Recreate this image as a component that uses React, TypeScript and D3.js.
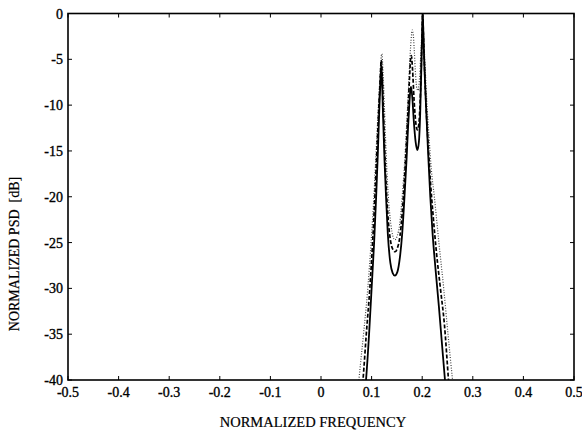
import React from "react";
import * as d3 from "d3";

const W = 582;
const H = 435;

const xTicks = [-0.5, -0.4, -0.3, -0.2, -0.1, 0, 0.1, 0.2, 0.3, 0.4, 0.5];
const xTickLabels = ["-0.5", "-0.4", "-0.3", "-0.2", "-0.1", "0", "0.1", "0.2", "0.3", "0.4", "0.5"];
const yTicks = [0, -5, -10, -15, -20, -25, -30, -35, -40];
const yTickLabels = ["0", "-5", "-10", "-15", "-20", "-25", "-30", "-35", "-40"];

// Solid curve: [normalized frequency, dB]
const solidFreq = [0.084, 0.089, 0.095, 0.1, 0.105, 0.109, 0.1125, 0.1155, 0.1175, 0.119, 0.1205, 0.1225, 0.1255, 0.1285, 0.132, 0.137, 0.1415, 0.146, 0.151, 0.156, 0.1605, 0.165, 0.169, 0.172, 0.1745, 0.1765, 0.178, 0.1805, 0.1835, 0.187, 0.1905, 0.1935, 0.196, 0.1985, 0.2, 0.201, 0.2025, 0.2045, 0.2075, 0.2115, 0.216, 0.2205, 0.2265, 0.233, 0.239, 0.245, 0.25];
const solidDb = [-43, -40, -35, -30, -25, -20, -15, -10, -7.5, -5.6, -7, -11, -16, -20, -24, -27.2, -28.3, -28.6, -28.2, -26.6, -24, -20, -16, -12.5, -10, -8.4, -8, -9.2, -11.8, -14, -14.9, -14, -11, -5.5, -1.8, 0, -2.5, -6, -10, -15, -20, -24, -28, -32, -36, -40, -43];

// Dashed curve
const dashFreq = [0.078, 0.083, 0.0895, 0.0965, 0.102, 0.1065, 0.1105, 0.1145, 0.1172, 0.119, 0.1208, 0.123, 0.126, 0.129, 0.133, 0.138, 0.1425, 0.1465, 0.151, 0.156, 0.1605, 0.1645, 0.1685, 0.172, 0.1748, 0.177, 0.1785, 0.181, 0.184, 0.1875, 0.1905, 0.1935, 0.196, 0.1985, 0.2, 0.201, 0.2025, 0.205, 0.208, 0.212, 0.2165, 0.2215, 0.228, 0.236, 0.244, 0.252, 0.258];
const dashDb = [-43, -40, -35, -30, -25, -20, -15, -10, -7, -5.1, -6.5, -10, -15, -19, -22.6, -25, -25.8, -26, -25.6, -24.3, -21.8, -18.5, -14.5, -10.5, -7.2, -5, -4.6, -6.2, -9.5, -12, -12.7, -12, -9.5, -5, -1.6, 0, -2.5, -6.5, -10.5, -14.5, -18.5, -22, -26, -30, -34, -40, -44];

// Dotted curve
const dotFreq = [0.069, 0.075, 0.084, 0.0925, 0.099, 0.1045, 0.109, 0.1135, 0.1165, 0.1185, 0.1203, 0.1225, 0.1255, 0.1285, 0.1325, 0.138, 0.142, 0.146, 0.1505, 0.1555, 0.1605, 0.165, 0.169, 0.1725, 0.1755, 0.178, 0.1805, 0.1825, 0.1845, 0.187, 0.1895, 0.192, 0.195, 0.1978, 0.2, 0.201, 0.2025, 0.2055, 0.209, 0.2135, 0.218, 0.224, 0.233, 0.2425, 0.251, 0.26, 0.266];
const dotDb = [-44, -40, -35, -30, -25, -20, -15, -10, -7, -5, -4.4, -6.3, -10.5, -15, -19.5, -23, -24.3, -24.7, -24.3, -23, -20, -16.5, -12.5, -8.6, -5.2, -2.9, -1.8, -2.4, -4.2, -6.8, -8.2, -8.4, -6.8, -3.8, -1.2, 0, -2, -5.5, -9.5, -13.5, -17, -20, -25, -30, -35, -40, -43];

const margin = { left: 68, right: W - 574, top: 13.5, bottom: H - 380 };

export default function App() {
  const x = d3.scaleLinear().domain([-0.5, 0.5]).range([margin.left, W - margin.right]);
  const y = d3.scaleLinear().domain([-40, 0]).range([H - margin.bottom, margin.top]);

  const line = d3
    .line<[number, number]>()
    .x((d) => x(d[0]))
    .y((d) => y(d[1]))
    .curve(d3.curveMonotoneX);

  const solid = solidFreq.map((f, i) => [f, solidDb[i]] as [number, number]);
  const dashed = dashFreq.map((f, i) => [f, dashDb[i]] as [number, number]);
  const dotted = dotFreq.map((f, i) => [f, dotDb[i]] as [number, number]);

  const x0 = x(-0.5);
  const x1 = x(0.5);
  const y0 = y(-40);
  const y1 = y(0);
  const tl = 4;
  const font = "'Liberation Serif', 'DejaVu Serif', serif";

  return (
    <svg
      width={W}
      height={H}
      viewBox={`0 0 ${W} ${H}`}
      style={{ position: "absolute", left: 0, top: 0, background: "#fff" }}
    >
      <defs>
        <clipPath id="plotClip">
          <rect x={x0} y={y1} width={x1 - x0} height={y0 - y1} />
        </clipPath>
      </defs>
      <rect x={0} y={0} width={W} height={H} fill="#fff" />

      <g clipPath="url(#plotClip)" fill="none">
        <path d={line(dotted) || ""} stroke="#444" strokeWidth={1.2} strokeDasharray="1,1.6" />
        <path d={line(dashed) || ""} stroke="#000" strokeWidth={1.7} strokeDasharray="4,2" />
        <path d={line(solid) || ""} stroke="#000" strokeWidth={1.8} />
      </g>

      {/* ticks */}
      <g stroke="#000" strokeWidth={1}>
        {xTicks.map((t) => (
          <g key={"xt" + t}>
            <line x1={x(t)} x2={x(t)} y1={y0} y2={y0 - tl} />
            <line x1={x(t)} x2={x(t)} y1={y1} y2={y1 + tl} />
          </g>
        ))}
        {yTicks.map((t) => (
          <g key={"yt" + t}>
            <line x1={x0} x2={x0 + tl} y1={y(t)} y2={y(t)} />
            <line x1={x1} x2={x1 - tl} y1={y(t)} y2={y(t)} />
          </g>
        ))}
      </g>

      {/* frame */}
      <rect x={x0} y={y1} width={x1 - x0} height={y0 - y1} fill="none" stroke="#000" strokeWidth={1.6} />

      {/* tick labels */}
      <g fontFamily={font} fontSize={14} fill="#000" stroke="#000" strokeWidth={0.35}>
        {xTicks.map((t, i) => (
          <text key={"xl" + t} x={x(t)} y={y0 + 17} textAnchor="middle">
            {xTickLabels[i]}
          </text>
        ))}
        {yTicks.map((t, i) => (
          <text key={"yl" + t} x={x0 - 5} y={y(t) + 5} textAnchor="end">
            {yTickLabels[i]}
          </text>
        ))}
      </g>

      <text x={313} y={427} textAnchor="middle" fontFamily={font} fontSize={14.5} fill="#000" stroke="#000" strokeWidth={0.2}>
        NORMALIZED FREQUENCY
      </text>
      <text
        transform={`translate(19, 254) rotate(-90)`}
        textAnchor="middle"
        fontFamily={font}
        fontSize={14}
        fill="#000"
        stroke="#000"
        strokeWidth={0.2}
        style={{ whiteSpace: "pre" }}
      >
        NORMALIZED PSD  [dB]
      </text>
    </svg>
  );
}
